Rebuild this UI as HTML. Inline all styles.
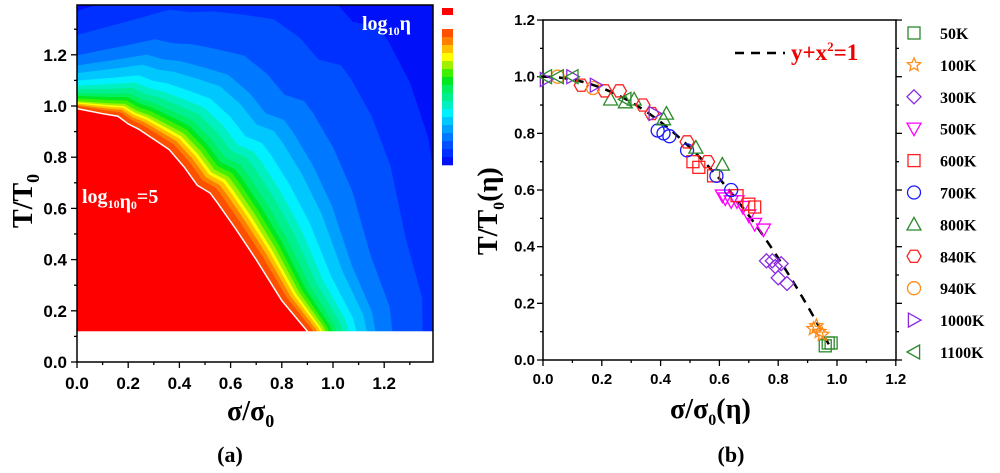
<!DOCTYPE html>
<html><head><meta charset="utf-8"><style>
html,body{margin:0;padding:0;background:#fff;width:1000px;height:473px;overflow:hidden}
svg{display:block}
.tk{font-family:"Liberation Sans",sans-serif;font-weight:bold;font-size:15px;fill:#000}
.tka{font-family:"Liberation Sans",sans-serif;font-weight:bold;font-size:17px;fill:#000}
.ser{font-family:"Liberation Serif",serif;font-weight:bold;fill:#000}
</style></head><body>
<svg id="root" width="1000" height="473" viewBox="0 0 1000 473">
<defs><clipPath id="clipA"><rect x="77" y="5" width="356" height="357"/></clipPath></defs>
<g id="panelA"></g>
<g id="panelB"></g>
</svg>
<script>
// ---- Panel (a) data ----
const boundaryX = [0, 0.1, 0.16, 0.2, 0.24, 0.3, 0.36, 0.42, 0.47, 0.52, 0.55, 0.62, 0.7, 0.8, 0.9, 0.96];
const boundaryY = [0.99, 0.97, 0.96, 0.93, 0.91, 0.87, 0.83, 0.76, 0.69, 0.66, 0.62, 0.52, 0.40, 0.24, 0.12, 0.02];
const levelSy = [1.385,1.29,1.21,1.17,1.14,1.11,1.09,1.075,1.06,1.05,1.04,1.03,1.025,1.02,1.015,1.01,1.0];
const levelSx = [1.5,1.39,1.28,1.22,1.19,1.155,1.13,1.11,1.09,1.075,1.065,1.055,1.045,1.038,1.028,1.017,1.0];
const levelColors = ['#0030ff','#0050ff','#0078ff','#00a0ff','#00c8ff','#00f0ff','#00f0c0','#00f090','#00f060','#00e820','#40f000','#a0f000','#ffff00','#ffc000','#ff8000','#ff5000','#ff0000'];
const aTicks = [0,0.2,0.4,0.6,0.8,1.0,1.2];
const aTickLabels = ['0.0','0.2','0.4','0.6','0.8','1.0','1.2'];
// ---- Panel (b) data ----
const seriesNames = ['50K','100K','300K','500K','600K','700K','800K','840K','940K','1000K','1100K'];
const seriesShapes = ['square','star','diamond','tridown','square','circle','triup','hexagon','circle','triright','trileft'];
const seriesColors = ['#2a8a2a','#ff8c1a','#8a2be2','#ff00ff','#ff2020','#1a1aff','#2a8a2a','#ff2020','#ff8c1a','#8a2be2','#2a8a2a'];
const s50x=[0.96,0.97,0.98], s50y=[0.05,0.06,0.06];
const s100x=[0.92,0.93,0.94,0.95], s100y=[0.11,0.12,0.10,0.09];
const s300x=[0.76,0.78,0.79,0.81,0.80,0.83], s300y=[0.35,0.35,0.33,0.34,0.29,0.27];
const s500x=[0.61,0.62,0.64,0.66,0.68,0.70,0.72,0.75], s500y=[0.58,0.57,0.56,0.56,0.54,0.51,0.48,0.46];
const s600x=[0.51,0.53,0.58,0.66,0.70,0.72], s600y=[0.70,0.68,0.65,0.58,0.55,0.54];
const s700x=[0.39,0.41,0.43,0.49,0.59,0.64], s700y=[0.81,0.80,0.79,0.74,0.65,0.60];
const s800x=[0.23,0.28,0.31,0.41,0.42,0.52,0.61], s800y=[0.92,0.91,0.92,0.85,0.87,0.75,0.69];
const s840x=[0.13,0.21,0.26,0.34,0.37,0.49,0.56], s840y=[0.97,0.95,0.95,0.90,0.87,0.77,0.70];
const s940x=[0.05,0.17], s940y=[1.0,0.96];
const s1000x=[0.01,0.10,0.18,0.38], s1000y=[0.99,1.0,0.97,0.87];
const s1100x=[0.01,0.05,0.10,0.28], s1100y=[1.0,1.0,1.0,0.92];
const seriesX=[s50x,s100x,s300x,s500x,s600x,s700x,s800x,s840x,s940x,s1000x,s1100x];
const seriesY=[s50y,s100y,s300y,s500y,s600y,s700y,s800y,s840y,s940y,s1000y,s1100y];
const bTicks=[0,0.2,0.4,0.6,0.8,1.0,1.2];
const bTickLabels=['0.0','0.2','0.4','0.6','0.8','1.0','1.2'];

const NS='http://www.w3.org/2000/svg';
function mk(tag,attrs,parent,txt){const e=document.createElementNS(NS,tag);for(const k in attrs)e.setAttribute(k,attrs[k]);if(txt!==undefined)e.textContent=txt;parent.appendChild(e);return e;}

// Panel A
const A=document.getElementById('panelA');
const ax=v=>77+v*256, ay=v=>362-v*256;
const cont=mk('g',{'clip-path':'url(#clipA)'},A);


let bg=mk('rect',{x:77,y:5,width:356,height:357,fill:'#0010f8'},cont);


levelSx.forEach((sx,i)=>{
  const sy=levelSy[i], k=(sx-1)*2.3;
  let pts=[[ax(0),ay(0)]];
  boundaryX.forEach((x,j)=>{
    const y=boundaryY[j], b=k*x*y;
    pts.push([ax(x*sx+b),ay(y*sy+b)]);
  });
  pts.push([ax(boundaryX[boundaryX.length-1]*sx),ay(0)]);
  const p=mk('polygon',{points:pts.map(q=>q.join(',')).join(' '),fill:levelColors[i]},cont);
  
  
});
let wl=mk('polyline',{points:boundaryX.map((x,j)=>ax(x)+','+ay(boundaryY[j])).join(' '),fill:'none',stroke:'#fff','stroke-width':1.5},cont);


let wr=mk('rect',{x:77,y:ay(0.12),width:356,height:362-ay(0.12),fill:'#fff'},cont);


let fa=mk('rect',{x:77,y:5,width:356,height:357,fill:'none',stroke:'#000','stroke-width':1.5},A);


for(let v=0;v<=1.39;v+=0.1){
  const big=Math.round(v*10)%2===0;
  mk('line',{x1:ax(v),x2:ax(v),y1:362,y2:362+(big?6:3),stroke:'#000','stroke-width':1.3},A);
  mk('line',{x1:77,x2:77-(big?6:3),y1:ay(v),y2:ay(v),stroke:'#000','stroke-width':1.3},A);
}
aTicks.forEach((v,i)=>{
  let t=mk('text',{x:ax(v),y:389,'text-anchor':'middle',class:'tka'},A,aTickLabels[i]);
  
  let u=mk('text',{x:67,y:ay(v)+6,'text-anchor':'end',class:'tka'},A,aTickLabels[i]);
  
});
let cb=mk('g',{},A);
mk('rect',{x:442,y:8,width:11,height:7,fill:'#ff0000'},cb);
const cbCols=['#0010f8'].concat(levelColors.slice(0,16));
for(let i=0;i<17;i++){mk('rect',{x:442,y:29+i*8,width:11,height:8.3,fill:cbCols[16-i]},cb);}
let t1=mk('text',{x:362,y:30,class:'ser','font-size':'20px',fill:'#fff'},A);
t1.innerHTML='<tspan fill="#fff">log</tspan><tspan fill="#fff" font-size="12" dy="5">10</tspan><tspan fill="#fff" dy="-5">η</tspan>';

let t2=mk('text',{x:82,y:203,class:'ser','font-size':'20px'},A);
t2.innerHTML='<tspan fill="#fff">log</tspan><tspan fill="#fff" font-size="12" dy="5">10</tspan><tspan fill="#fff">η</tspan><tspan fill="#fff" font-size="12" dy="1">0</tspan><tspan fill="#fff" dy="-6">=5</tspan>';

let xa=mk('text',{x:227,y:420,class:'ser','font-size':'28px'},A);
xa.innerHTML='σ/σ<tspan font-size="18" dy="7">0</tspan>';

let ya=mk('text',{x:0,y:0,class:'ser','font-size':'28px',transform:'translate(32,228) rotate(-90)'},A);
ya.innerHTML='T/T<tspan font-size="18" dy="7">0</tspan>';

let la=mk('text',{x:230,y:462,'text-anchor':'middle',class:'ser','font-size':'22px'},A,'(a)');


// Panel B
const B=document.getElementById('panelB');
const bx=v=>543+v*294, by=v=>360-v*283.3;
let fb=mk('rect',{x:543,y:20,width:353,height:340,fill:'none',stroke:'#000','stroke-width':1.5},B);

for(let k=0;k<=12;k++){const v=k/10,big=k%2===0;
  mk('line',{x1:bx(v),x2:bx(v),y1:360,y2:360+(big?6:3),stroke:'#000','stroke-width':1.3},B);
  mk('line',{x1:543,x2:543-(big?6:3),y1:by(v),y2:by(v),stroke:'#000','stroke-width':1.3},B);
  mk('line',{x1:896,x2:896+(big?6:3),y1:by(v),y2:by(v),stroke:'#000','stroke-width':1.3},B);
}
bTicks.forEach((v,i)=>{
  let t=mk('text',{x:bx(v),y:384,'text-anchor':'middle',class:'tk'},B,bTickLabels[i]);
  
  let u=mk('text',{x:535,y:by(v)+5,'text-anchor':'end',class:'tk'},B,bTickLabels[i]);
  
});
let cp=[];for(let x=0;x<=0.985;x+=0.01)cp.push(bx(x)+','+by(1-x*x));
let fit=mk('polyline',{points:cp.join(' '),fill:'none',stroke:'#000','stroke-width':2.5,'stroke-dasharray':'9,7'},B);

function marker(shape,cx,cy,col,g){
  const r=7;let e;
  const poly=pts=>mk('polygon',{points:pts.map(p=>(cx+p[0])+','+(cy+p[1])).join(' '),fill:'none',stroke:col,'stroke-width':1.3},g);
  if(shape==='square')e=mk('rect',{x:cx-6,y:cy-6,width:12,height:12,fill:'none',stroke:col,'stroke-width':1.3},g);
  else if(shape==='circle')e=mk('circle',{cx,cy,r:6.5,fill:'none',stroke:col,'stroke-width':1.3},g);
  else if(shape==='diamond')e=poly([[0,-r],[r,0],[0,r],[-r,0]]);
  else if(shape==='triup')e=poly([[0,-r],[r,r*0.8],[-r,r*0.8]]);
  else if(shape==='tridown')e=poly([[0,r],[r,-r*0.8],[-r,-r*0.8]]);
  else if(shape==='triright')e=poly([[r,0],[-r*0.8,-r],[-r*0.8,r]]);
  else if(shape==='trileft')e=poly([[-r,0],[r*0.8,-r],[r*0.8,r]]);
  else if(shape==='hexagon'){let p=[];for(let k=0;k<6;k++){const a=Math.PI/3*k;p.push([r*Math.cos(a),r*Math.sin(a)]);}e=poly(p);}
  else if(shape==='star'){let p=[];for(let k=0;k<10;k++){const a=-Math.PI/2+Math.PI/5*k,rr=k%2?r*0.45:r;p.push([rr*Math.cos(a),rr*Math.sin(a)]);}e=poly(p);}
  return e;
}
seriesNames.forEach((nm,i)=>{
  const g=mk('g',{},B);
  
  
  seriesX[i].forEach((x,j)=>{
    const m=marker(seriesShapes[i],bx(x),by(seriesY[i][j]),seriesColors[i],g);
    
    
  });
  const lg=mk('g',{},B);
  
  
  const ly=33+i*31.9;
  marker(seriesShapes[i],914,ly,seriesColors[i],lg);
  mk('text',{x:940,y:ly+6,class:'ser','font-size':'16px'},lg,nm);
});
let ld=mk('line',{x1:735,x2:785,y1:53,y2:53,stroke:'#000','stroke-width':2.5,'stroke-dasharray':'9,7'},B);

let lt=mk('text',{x:791,y:60,class:'ser','font-size':'23px',fill:'#ee0000'},B);
lt.innerHTML='<tspan fill="#ee0000">y+x</tspan><tspan fill="#ee0000" font-size="13" dy="-9">2</tspan><tspan fill="#ee0000" dy="9">=1</tspan>';

let xb=mk('text',{x:670,y:418,class:'ser','font-size':'28px'},B);
xb.innerHTML='σ/σ<tspan font-size="16" dy="7">0</tspan><tspan dy="-7">(η)</tspan>';

let yb=mk('text',{x:0,y:0,class:'ser','font-size':'28px',transform:'translate(497,255) rotate(-90)'},B);
yb.innerHTML='T/T<tspan font-size="16" dy="7">0</tspan><tspan dy="-7">(η)</tspan>';

let lb=mk('text',{x:731,y:462,'text-anchor':'middle',class:'ser','font-size':'22px'},B,'(b)');

</script>
</body></html>
